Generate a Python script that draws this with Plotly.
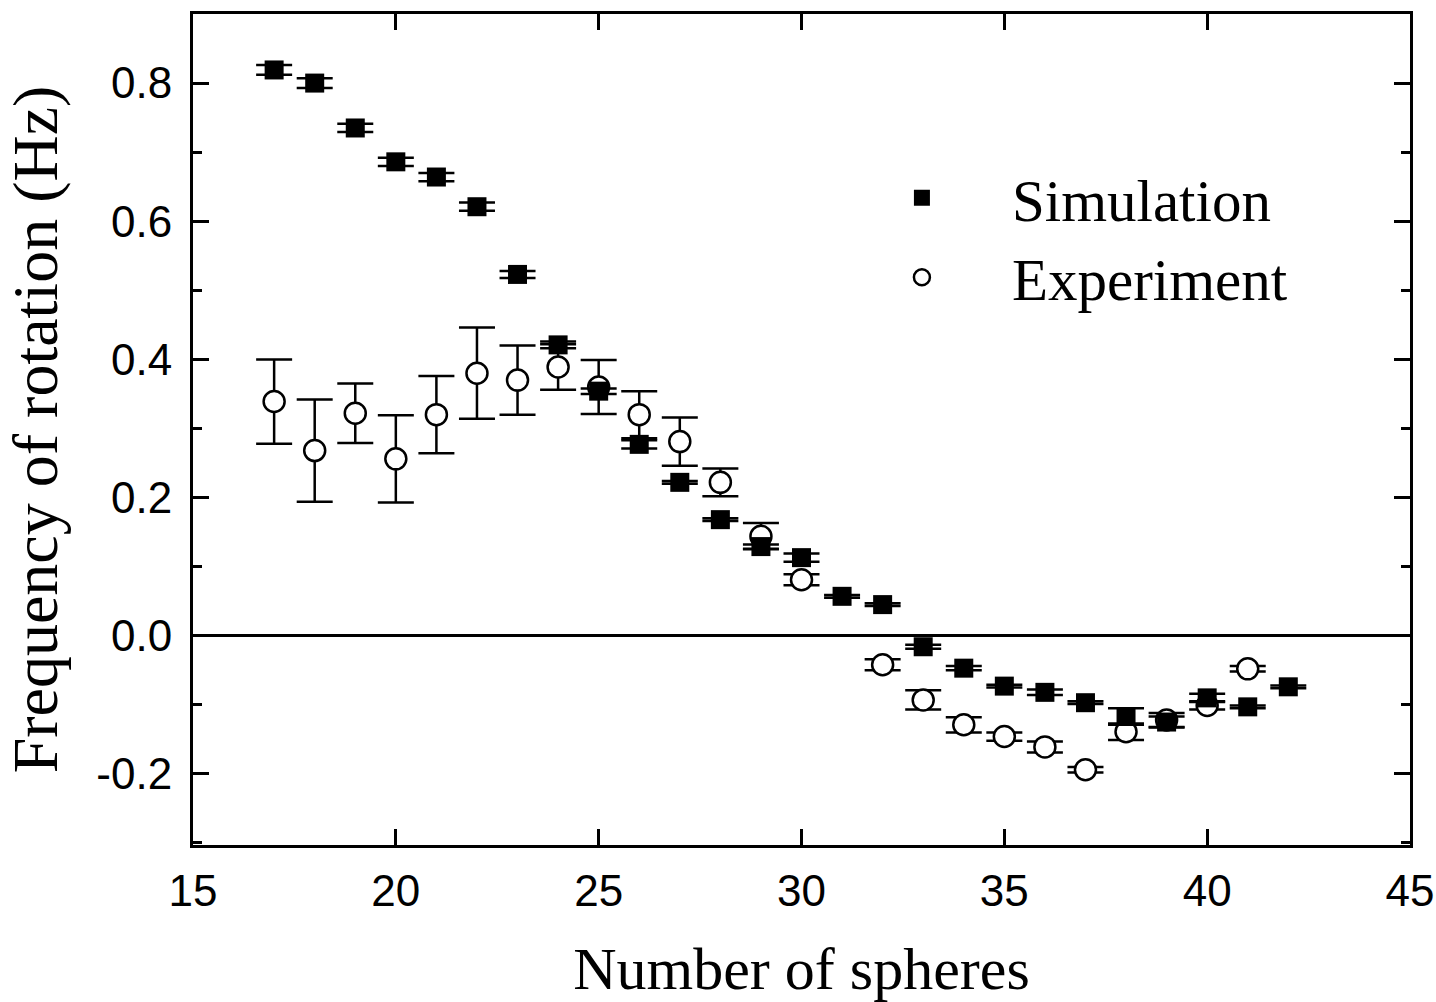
import plotly.graph_objects as go

# Simulation data
sim_n = [17, 18, 19, 20, 21, 22, 23, 24, 25, 26, 27, 28, 29, 30, 31, 32, 33, 34, 35, 36, 37, 38, 39, 40, 41, 42]
sim_f = [0.819, 0.800, 0.735, 0.686, 0.664, 0.621, 0.523, 0.421, 0.354, 0.277, 0.222, 0.168, 0.129, 0.113,
         0.057, 0.045, -0.016, -0.047, -0.073, -0.082, -0.097, -0.117, -0.125, -0.090, -0.103, -0.074]
sim_err = [0.007, 0.007, 0.006, 0.006, 0.006, 0.006, 0.005, 0.005, 0.004, 0.006, 0.002, 0.002, 0.003, 0.006,
           0.002, 0.002, 0.003, 0.003, 0.002, 0.004, 0.002, 0.012, 0.008, 0.006, 0.002, 0.002]

# Experiment data
exp_n = [17, 18, 19, 20, 21, 22, 23, 24, 25, 26, 27, 28, 29, 30, 32, 33, 34, 35, 36, 37, 38, 39, 40, 41]
exp_f = [0.339, 0.268, 0.322, 0.256, 0.320, 0.380, 0.370, 0.389, 0.360, 0.320, 0.281, 0.222, 0.144, 0.081,
         -0.042, -0.093, -0.129, -0.146, -0.161, -0.194, -0.139, -0.122, -0.101, -0.048]
exp_err = [0.061, 0.074, 0.043, 0.063, 0.056, 0.066, 0.050, 0.033, 0.039, 0.034, 0.035, 0.020, 0.019, 0.008,
           0.008, 0.014, 0.011, 0.006, 0.008, 0.004, 0.012, 0.010, 0.006, 0.004]

x_ticks = [15, 20, 25, 30, 35, 40, 45]
y_ticks = [-0.2, 0.0, 0.2, 0.4, 0.6, 0.8]
y_ticklabels = ["-0.2", "0.0", "0.2", "0.4", "0.6", "0.8"]

fig = go.Figure()

fig.add_trace(go.Scatter(
    x=exp_n, y=exp_f, mode="markers", name="Experiment",
    marker=dict(symbol="circle", size=21, color="white", line=dict(color="black", width=2.5)),
    error_y=dict(type="data", array=exp_err, visible=True, color="black", thickness=2.5, width=18),
))
fig.add_trace(go.Scatter(
    x=sim_n, y=sim_f, mode="markers", name="Simulation",
    marker=dict(symbol="square", size=19, color="black", line=dict(color="black", width=0)),
    error_y=dict(type="data", array=sim_err, visible=True, color="black", thickness=2.5, width=18),
))

serif = "Liberation Serif, Times New Roman, serif"
sans = "Liberation Sans, Arial, sans-serif"

fig.update_layout(
    width=1436, height=1002,
    margin=dict(l=193, r=26, t=14, b=157, autoexpand=False),
    paper_bgcolor="white", plot_bgcolor="white",
    showlegend=True,
    legend=dict(
        x=0.525, y=0.833, xanchor="left", yanchor="top",
        font=dict(family=serif, size=59, color="black"),
        traceorder="reversed", itemwidth=170, bgcolor="rgba(0,0,0,0)",
        tracegroupgap=0,
    ),
    xaxis=dict(
        range=[15, 45], tickvals=x_ticks, ticks="inside", ticklen=16, tickwidth=3,
        tickcolor="black", showline=True, linecolor="black", linewidth=3, mirror="ticks",
        showgrid=False, zeroline=False, automargin=False,
        tickfont=dict(family=sans, size=44, color="black"), ticklabelstandoff=5,
        title=dict(text="Number of spheres", font=dict(family=serif, size=60, color="black"), standoff=34),
    ),
    yaxis=dict(
        range=[-0.303, 0.90], tickvals=y_ticks, ticktext=y_ticklabels, ticks="inside", ticklen=16,
        tickwidth=3, tickcolor="black", showline=True, linecolor="black", linewidth=3, mirror="ticks",
        showgrid=False, zeroline=True, zerolinecolor="black", zerolinewidth=2.5, automargin=False,
        tickfont=dict(family=sans, size=44, color="black"), ticklabelstandoff=9,
        minor=dict(dtick=0.1, ticks="inside", ticklen=9, tickwidth=3, tickcolor="black", showgrid=False),
        title=dict(text="Frequency of rotation (Hz)", font=dict(family=serif, size=64, color="black"), standoff=22),
    ),
)

fig.write_html("out.html")
